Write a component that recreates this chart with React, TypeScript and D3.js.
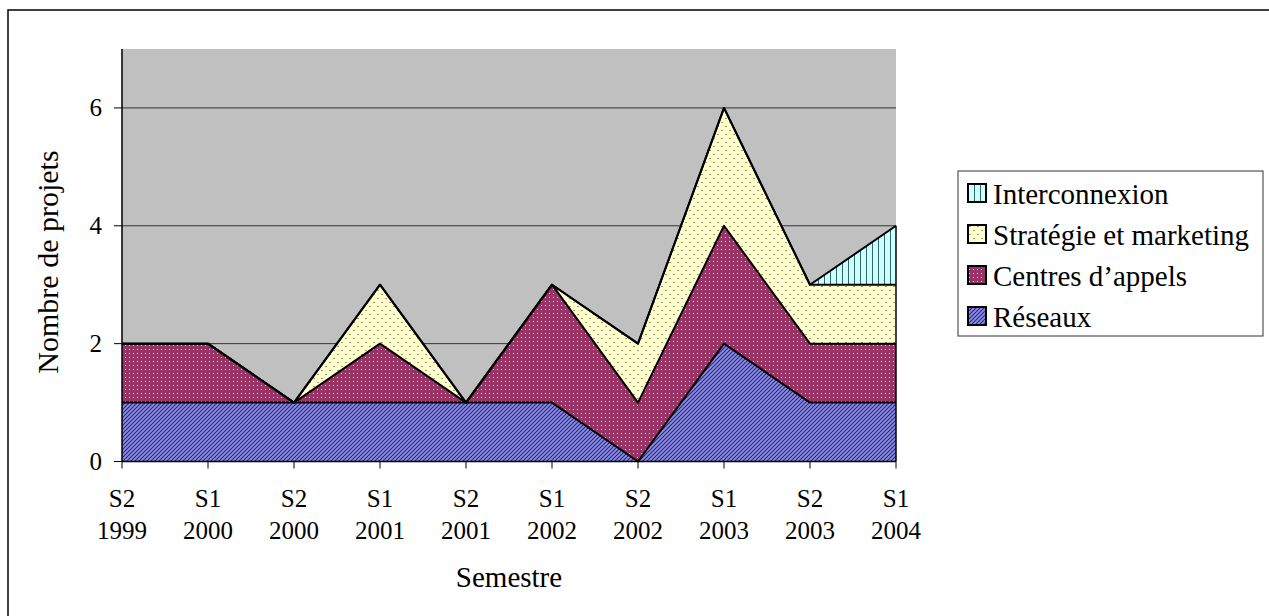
import React from "react";
import * as d3 from "d3";

const categories = ["S2|1999", "S1|2000", "S2|2000", "S1|2001", "S2|2001", "S1|2002", "S2|2002", "S1|2003", "S2|2003", "S1|2004"];
const seriesNames = ["Réseaux", "Centres d’appels", "Stratégie et marketing", "Interconnexion"];
const reseaux = [1, 1, 1, 1, 1, 1, 0, 2, 1, 1];
const centres = [1, 1, 0, 1, 0, 2, 1, 2, 1, 1];
const strategie = [0, 0, 0, 1, 0, 0, 1, 2, 1, 1];
const interconnexion = [0, 0, 0, 0, 0, 0, 0, 0, 0, 1];
const yTicks = [0, 2, 4, 6];

const W = 1269, H = 616;
const left = 122, right = 896, top = 49, bottom = 461.5;
const font = "'Liberation Serif', 'Times New Roman', Times, serif";

export default function App() {
  const x = d3.scalePoint<number>().domain(d3.range(categories.length)).range([left, right]);
  const y = d3.scaleLinear().domain([0, 7]).range([bottom, top]);
  const rows = categories.map((c, i) => ({ i, r: reseaux[i], c: centres[i], s: strategie[i], n: interconnexion[i] }));
  const stack = d3.stack<any>().keys(["r", "c", "s", "n"])(rows);
  const fills = ["url(#pRes)", "url(#pCen)", "url(#pStr)", "url(#pInt)"];
  const area = d3.area<any>().x((d) => x(d.data.i)!).y0((d) => y(d[0])).y1((d) => y(d[1]));
  const line = d3.line<any>().x((d) => x(d.data.i)!).y((d) => y(d[1]));
  const last = categories.length - 1;
  const lastTotal = reseaux[last] + centres[last] + strategie[last] + interconnexion[last];

  const legendOrder = [3, 2, 1, 0];
  return (
    <svg width={W} height={H} style={{ position: "absolute", left: 0, top: 0 }}>
      <defs>
        <pattern id="pRes" width="4" height="4" patternUnits="userSpaceOnUse">
          <rect width="4" height="4" fill="#8C8CF0" />
          <path d="M0,4 L4,0 M-1,1 L1,-1 M3,5 L5,3" stroke="#2a2a60" strokeWidth="1.1" />
        </pattern>
        <pattern id="pCen" width="4" height="4" patternUnits="userSpaceOnUse">
          <rect width="4" height="4" fill="#993366" />
          <rect x="1" y="1" width="1" height="1" fill="#F0D0E0" />
        </pattern>
        <pattern id="pStr" width="8" height="8" patternUnits="userSpaceOnUse">
          <rect width="8" height="8" fill="#FFFFCC" />
          <rect x="1" y="2" width="2" height="1" fill="#999980" />
          <rect x="5" y="6" width="2" height="1" fill="#999980" />
        </pattern>
        <pattern id="pInt" width="6" height="6" patternUnits="userSpaceOnUse">
          <rect width="6" height="6" fill="#CCFFFF" />
          <rect x="2" y="0" width="1" height="6" fill="#336666" />
        </pattern>
      </defs>
      <rect x={8} y={10} width={W + 20} height={H + 20} fill="white" stroke="black" strokeWidth={1.5} />
      <rect x={left} y={top} width={right - left} height={bottom - top} fill="#C0C0C0" />
      {yTicks.filter((t) => t > 0).map((t) => (
        <line key={t} x1={left} x2={right} y1={y(t)} y2={y(t)} stroke="#333" strokeWidth={1} />
      ))}
      {stack.map((s, k) => (
        <path key={"a" + k} d={area(s as any)!} fill={fills[k]} stroke="none" />
      ))}
      {stack.map((s, k) => (
        <path key={"l" + k} d={line(s as any)!} fill="none" stroke="black" strokeWidth={2} strokeLinejoin="round" />
      ))}
      <line x1={right} x2={right} y1={y(0)} y2={y(lastTotal)} stroke="black" strokeWidth={1.5} />
      <line x1={left} x2={left} y1={top} y2={bottom} stroke="black" strokeWidth={1.5} />
      <line x1={left} x2={right} y1={bottom} y2={bottom} stroke="black" strokeWidth={1.5} />
      {yTicks.map((t) => (
        <g key={"yt" + t}>
          <line x1={left - 8} x2={left} y1={y(t)} y2={y(t)} stroke="black" strokeWidth={1} />
          <text x={102} y={y(t) + 8} textAnchor="end" fontFamily={font} fontSize={25}>{t}</text>
        </g>
      ))}
      {categories.map((c, i) => {
        const [a, b] = c.split("|");
        return (
          <g key={"xt" + i}>
            <line x1={x(i)} x2={x(i)} y1={bottom} y2={bottom + 7} stroke="black" strokeWidth={1} />
            <text x={x(i)} y={507} textAnchor="middle" fontFamily={font} fontSize={25}>{a}</text>
            <text x={x(i)} y={539} textAnchor="middle" fontFamily={font} fontSize={25}>{b}</text>
          </g>
        );
      })}
      <text x={509} y={587} textAnchor="middle" fontFamily={font} fontSize={29}>Semestre</text>
      <text transform={`translate(58,262) rotate(-90)`} textAnchor="middle" fontFamily={font} fontSize={30}>Nombre de projets</text>
      <rect x={958} y={171} width={305} height={165} fill="white" stroke="#333" strokeWidth={1} />
      {legendOrder.map((k, j) => (
        <g key={"lg" + k}>
          <rect x={968} y={184 + j * 41} width={18} height={18} fill={fills[k]} stroke="black" strokeWidth={2} />
          <text x={993} y={204 + j * 41} fontFamily={font} fontSize={29}>{seriesNames[k]}</text>
        </g>
      ))}
    </svg>
  );
}
